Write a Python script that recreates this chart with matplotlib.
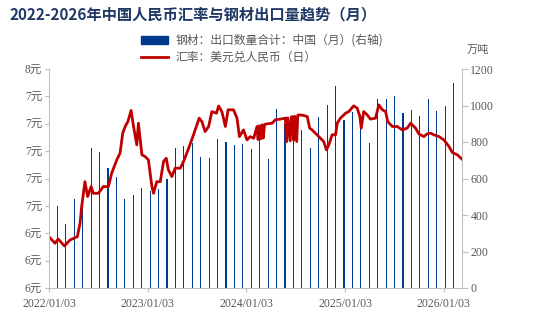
import matplotlib
matplotlib.use("Agg")
import matplotlib.pyplot as plt
from matplotlib.patches import Patch
from matplotlib.lines import Line2D
import pandas as pd
import numpy as np

# ---- data ----
# monthly steel exports (万吨), Jan 2022 .. Dec 2025
export_months = pd.period_range("2022-01", "2025-12", freq="M").strftime("%Y-%m").tolist()
exports = [451, 351, 489, 500, 767, 745, 658, 608, 489, 511, 548, 531,
           545, 598, 767, 778, 793, 718, 712, 816, 800, 784, 789, 762,
           815, 707, 981, 900, 942, 866, 767, 937, 1003, 1107, 921, 966,
           884, 795, 1036, 1036, 1052, 961, 975, 942, 1036, 970, 995, 1125]

# USD/CNY
fx_dates = [
    "2022-01-03", "2022-01-25", "2022-02-06", "2022-03-01", "2022-03-22", "2022-04-18",
    "2022-04-28", "2022-05-04", "2022-05-16", "2022-05-26", "2022-06-08", "2022-06-16",
    "2022-07-05", "2022-07-23", "2022-08-11", "2022-08-23", "2022-09-11", "2022-09-23",
    "2022-10-03", "2022-10-12", "2022-10-22", "2022-11-03", "2022-11-12", "2022-11-24",
    "2022-11-30", "2022-12-13", "2022-12-25", "2023-01-06", "2023-01-19", "2023-01-25",
    "2023-02-06", "2023-02-19", "2023-03-03", "2023-03-13", "2023-03-21", "2023-04-03",
    "2023-04-15", "2023-05-04", "2023-05-16", "2023-06-04", "2023-06-22", "2023-07-13",
    "2023-07-23", "2023-08-04", "2023-08-17", "2023-08-29", "2023-09-15", "2023-09-23",
    "2023-10-05", "2023-10-18", "2023-10-28", "2023-11-17", "2023-11-30", "2023-12-09",
    "2023-12-24", "2024-01-06", "2024-01-18", "2024-01-31", "2024-02-12", "2024-02-16",
    "2024-02-20", "2024-02-26", "2024-03-01", "2024-03-06", "2024-03-11", "2024-03-20",
    "2024-04-08", "2024-04-20", "2024-05-09", "2024-05-27", "2024-06-01", "2024-06-05",
    "2024-06-14", "2024-06-18", "2024-06-21", "2024-06-27", "2024-07-01", "2024-07-08",
    "2024-07-12", "2024-07-15", "2024-07-30", "2024-08-16", "2024-08-25", "2024-09-03",
    "2024-09-15", "2024-09-28", "2024-10-16", "2024-10-26", "2024-11-04", "2024-11-16",
    "2024-11-29", "2024-12-05", "2024-12-17", "2025-01-05", "2025-01-17", "2025-02-04",
    "2025-02-17", "2025-02-27", "2025-03-04", "2025-03-13", "2025-03-26", "2025-04-07",
    "2025-04-26", "2025-05-08", "2025-05-21", "2025-06-02", "2025-06-10", "2025-06-27",
    "2025-07-15", "2025-08-03", "2025-08-21", "2025-09-03", "2025-09-21", "2025-10-03",
    "2025-10-22", "2025-11-03", "2025-11-16", "2025-11-28", "2025-12-17", "2026-01-04",
    "2026-01-23", "2026-02-04", "2026-02-23", "2026-03-11",
]
fx_values = [
    6.375, 6.327, 6.358, 6.307, 6.351, 6.375,
    6.475, 6.595, 6.777, 6.668, 6.741, 6.692,
    6.692, 6.741, 6.741, 6.839, 6.936, 6.985,
    7.131, 7.180, 7.216, 7.297, 7.180, 7.046,
    7.204, 6.973, 6.960, 6.936, 6.741, 6.692,
    6.777, 6.777, 6.924, 6.948, 6.863, 6.814,
    6.875, 6.875, 6.924, 7.021, 7.119, 7.241,
    7.216, 7.143, 7.180, 7.289, 7.277, 7.330,
    7.289, 7.180, 7.302, 7.302, 7.241, 7.106,
    7.155, 7.082, 7.106, 7.094, 7.180, 7.085,
    7.185, 7.090, 7.192, 7.095, 7.195, 7.199,
    7.204, 7.229, 7.234, 7.241, 7.070, 7.243,
    7.075, 7.248, 7.253, 7.080, 7.255, 7.070,
    7.262, 7.265, 7.262, 7.253, 7.168, 7.155,
    7.131, 7.106, 7.070, 7.009, 7.046, 7.119,
    7.119, 7.204, 7.241, 7.277, 7.289, 7.331,
    7.314, 7.253, 7.168, 7.289, 7.265, 7.234,
    7.241, 7.338, 7.302, 7.289, 7.216, 7.180,
    7.180, 7.155, 7.168, 7.204, 7.168, 7.126,
    7.106, 7.126, 7.131, 7.119, 7.106, 7.082,
    7.033, 6.990, 6.973, 6.943,
]

xtick_dates = ["2022-01-03", "2023-01-03", "2024-01-03", "2025-01-03", "2026-01-03"]
left_ticks = [6.0, 6.2, 6.4, 6.6, 6.8, 7.0, 7.2, 7.4, 7.6]
right_ticks = [0, 200, 400, 600, 800, 1000, 1200]

title = "2022-2026年中国人民币汇率与钢材出口量趋势（月）"
bar_label = "钢材：出口数量合计：中国（月）(右轴)"
line_label = "汇率：美元兑人民币（日）"

# ---- style ----
navy = "#1F3864"
bar_color = "#003A8C"
red = "#C00000"
gray_txt = "#595959"
gray_ax = "#BFBFBF"
num_font = ["Liberation Serif", "Noto Sans CJK SC"]
cjk_font = ["Noto Sans CJK SC", "DejaVu Sans"]

fig = plt.figure(figsize=(5.35, 3.2), dpi=100)
rect = [49 / 535, 32 / 320, 413 / 535, 219 / 320]

# bars on their own category axis, right-hand scale
axb = fig.add_axes(rect)
axb.bar(np.arange(len(exports)), exports, width=0.15, color=bar_color, linewidth=0)
axb.set_xlim(-1, len(exports))
axb.set_ylim(0, 1200)
axb.yaxis.tick_right()
axb.set_yticks(right_ticks)
axb.set_yticklabels([str(v) for v in right_ticks], family=num_font, fontsize=8.5, color=gray_txt)
axb.tick_params(axis="y", length=4, color=gray_ax, pad=2)
axb.set_xticks([])
for s in ["top", "left", "bottom"]:
    axb.spines[s].set_visible(False)
axb.spines["right"].set_color(gray_ax)

# exchange-rate line on a date axis, left-hand scale
ax = fig.add_axes(rect)
ax.set_zorder(axb.get_zorder() + 1)
ax.patch.set_visible(False)
ax.plot(pd.to_datetime(fx_dates), fx_values, color=red, lw=2.0, solid_joinstyle="round")
ax.set_xlim(pd.Timestamp("2022-01-03"), pd.Timestamp("2026-03-12"))
ax.set_ylim(6.0, 7.6)
ax.set_yticks(left_ticks)
ax.set_yticklabels([f"{v:.0f}元" for v in left_ticks], family=num_font, fontsize=8.3, color=gray_txt)
xt = pd.to_datetime(xtick_dates)
ax.set_xticks(xt)
ax.set_xticklabels([d.strftime("%Y/%m/%d") for d in xt], family=num_font, fontsize=8.5, color=gray_txt)
ax.tick_params(axis="both", length=3, color=gray_ax, pad=2)
ax.tick_params(axis="x", pad=4)
for s in ["top", "right"]:
    ax.spines[s].set_visible(False)
ax.spines["left"].set_color(gray_ax)
ax.spines["bottom"].set_color(gray_ax)

# title, unit, legend
fig.text(10 / 535, 1 - 14 / 320, title, ha="left", va="center", fontsize=11,
         fontweight="bold", color=navy, family=cjk_font)
fig.text(478 / 535, 1 - 50 / 320, "万吨", ha="center", va="center", fontsize=8,
         color=gray_txt, family=cjk_font)

handles = [Patch(color=bar_color), Line2D([0], [0], color=red, lw=2.0)]
fig.legend(handles, [bar_label, line_label], loc="center",
           bbox_to_anchor=(262 / 535, 1 - 49 / 320), frameon=False,
           prop={"family": cjk_font, "size": 8.5}, labelcolor=gray_txt,
           handlelength=2.3, handleheight=0.6, labelspacing=0.35,
           handletextpad=0.6, borderpad=0.1)

fig.savefig("out.png", dpi=100, facecolor="white")
